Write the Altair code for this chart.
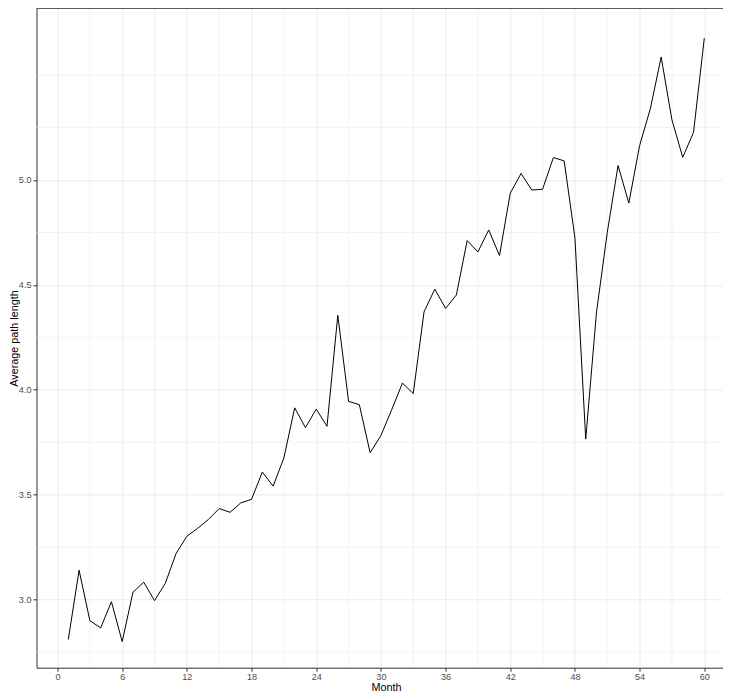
import altair as alt
import pandas as pd

months = list(range(1, 61))
avg_path_length = [
    2.81, 3.14, 2.90, 2.865, 2.99, 2.80, 3.035, 3.083, 2.995, 3.078,
    3.220, 3.302, 3.340, 3.382, 3.434, 3.416, 3.461, 3.478, 3.608, 3.541,
    3.675, 3.914, 3.820, 3.908, 3.826, 4.355, 3.945, 3.929, 3.700, 3.782,
    3.905, 4.032, 3.982, 4.371, 4.480, 4.388, 4.452, 4.711, 4.657, 4.762,
    4.640, 4.937, 5.031, 4.952, 4.956, 5.107, 5.091, 4.724, 3.765, 4.370,
    4.750, 5.069, 4.890, 5.164, 5.341, 5.586, 5.286, 5.108, 5.227, 5.676,
]

x_major = list(range(0, 61, 6))
x_minor = list(range(3, 60, 6))
y_major = [3.0, 3.5, 4.0, 4.5, 5.0]
y_minor = [2.75, 3.25, 3.75, 4.25, 4.75, 5.25, 5.5]

XF = "Month"
YF = "Average path length"
df = pd.DataFrame({XF: months, YF: avg_path_length})
xminor_df = pd.DataFrame({XF: x_minor})
yminor_df = pd.DataFrame({YF: y_minor})
border_df = pd.DataFrame({"k": [0]})

W = 686.5
H = 659.4
xscale = alt.Scale(domain=[-1.95, 61.735], nice=False, zero=False)
yscale = alt.Scale(domain=[2.6754, 5.8184], nice=False, zero=False)

FONT = "Liberation Sans"
common = dict(
    grid=True, gridColor="#EBEBEB", gridWidth=1,
    domain=True, domainColor="#333333", domainWidth=1,
    tickColor="#333333", tickSize=3.5, tickWidth=1,
    labelColor="#4D4D4D", labelFont=FONT, labelFontSize=9.1,
    titleFont=FONT, titleFontSize=10.8, titleColor="#000000", titleFontWeight="normal",
    labelFlush=False, labelOverlap=False,
)
xaxis = alt.Axis(values=x_major, title="Month", labelPadding=1,
                 titleX=349.5, titleY=22.3, titleAlign="center",
                 titleBaseline="alphabetic", **common)
yaxis = alt.Axis(values=y_major, format=".1f", title="Average path length",
                 labelPadding=2, titleX=-19.5, titleBaseline="alphabetic", **common)

X = alt.X(f"{XF}:Q", scale=xscale, axis=xaxis)
Y = alt.Y(f"{YF}:Q", scale=yscale, axis=yaxis)

xminor = alt.Chart(xminor_df).mark_rule(color="#EBEBEB", strokeWidth=0.6).encode(x=X)
yminor = alt.Chart(yminor_df).mark_rule(color="#EBEBEB", strokeWidth=0.6).encode(y=Y)
line = alt.Chart(df).mark_line(color="#000000", strokeWidth=1).encode(x=X, y=Y)
top_border = alt.Chart(border_df).mark_rule(color="#333333", strokeWidth=1).encode(
    x=alt.value(0), x2=alt.value(W), y=alt.value(0)
)

chart = alt.layer(xminor, yminor, line, top_border).properties(
    width=W,
    height=H,
    autosize=alt.AutoSizeParams(type="none"),
    padding={"left": 28.5, "top": 0.3, "right": 0, "bottom": 23.3},
    background="white",
).configure_view(strokeWidth=0)

chart.save("out.html", embed_options={"renderer": "svg", "actions": False})
